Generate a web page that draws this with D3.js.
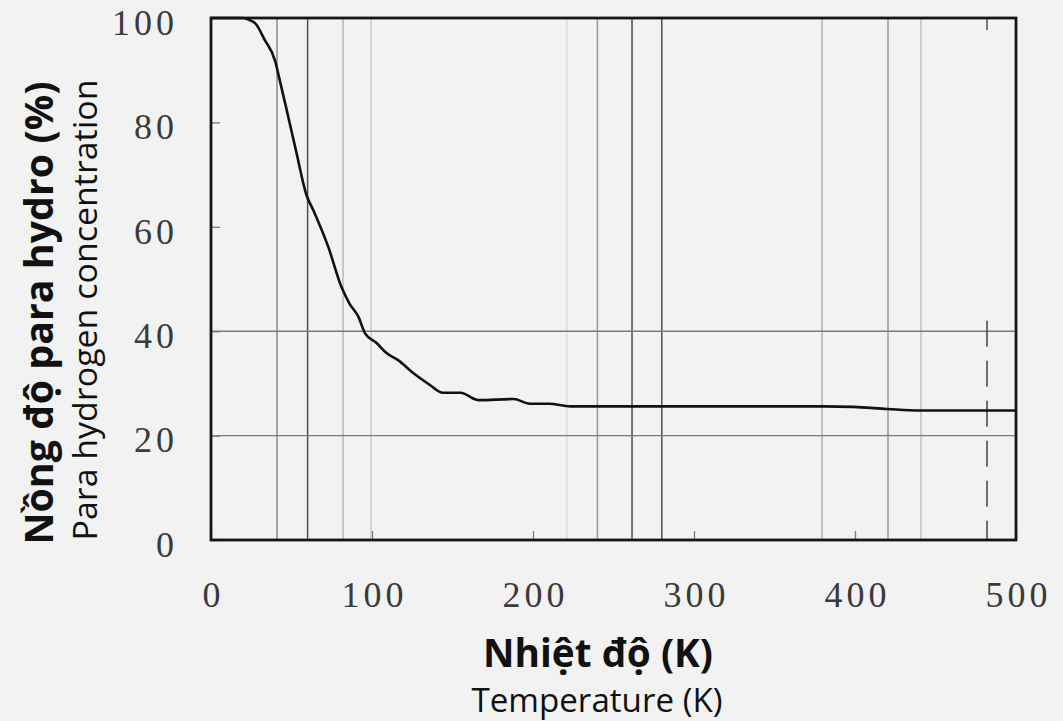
<!DOCTYPE html>
<html>
<head>
<meta charset="utf-8">
<script src="https://cdn.jsdelivr.net/npm/d3@7"></script>
<style>
  body { margin: 0; background: #f2f2f2; }
  .tickLabel { font-family: "Liberation Serif", "DejaVu Serif", serif; font-size: 36px; fill: #3a3a3a; letter-spacing: 4px; }
  .titleBold { font-family: "Open Sans", sans-serif; font-weight: 700; fill: #111; }
  .titleReg { font-family: "Open Sans", sans-serif; font-weight: 400; fill: #111; }
</style>
</head>
<body>
<div id="chart"></div>
<script>
// data
const temps = [0, 20, 24, 28, 33, 40, 42, 47, 53, 59.4, 63.5, 73, 81, 86, 91.5, 95.7, 103, 109, 116, 126, 136, 144, 150, 155, 166, 188, 198, 210, 223, 300, 380, 399, 420, 440, 500];
const paraH = [100, 100, 99.6, 98.8, 96, 91.6, 89, 82.4, 74.3, 66, 63.2, 56, 48.5, 45.3, 42.8, 39.6, 37.7, 35.8, 34.5, 31.9, 29.7, 28.2, 28.2, 28.2, 26.8, 27.0, 26.1, 26.1, 25.6, 25.6, 25.6, 25.5, 25.1, 24.8, 24.8];

const xTicks = [0, 100, 200, 300, 400, 500];
const yTicks = [0, 20, 40, 60, 80, 100];

// scanned grid lines (irregular in the original)
const gridT = [41, 60, 82, 99.4, 221, 240, 261.5, 280, 379.5, 420.5, 441];
const gridP = [20, 40];
const dashedT = 482;

// set up svg size
const svgWidth = 1063;
const svgHeight = 721;

const margin = {
    top: 18,
    right: 47,
    bottom: 181,
    left: 211
};

const width = svgWidth - margin.left - margin.right;
const height = svgHeight - margin.top - margin.bottom;

const svg = d3.select("#chart")
    .append("svg")
    .attr("width", svgWidth)
    .attr("height", svgHeight);

const chartGroup = svg.append("g")
    .attr("transform", `translate(${margin.left}, ${margin.top})`);

const xScale = d3.scaleLinear().domain([0, 500]).range([0, width]);
const yScale = d3.scaleLinear().domain([0, 100]).range([height, 0]);

// vertical grid lines, each with its own scan shade
const gridShade = ["#8a8a8a", "#4d4d4d", "#b8b8b8", "#cacaca", "#dcdcdc", "#9a9a9a", "#4d4d4d", "#4d4d4d", "#b0b0b0", "#9a9a9a", "#c0c0c0"];
chartGroup.selectAll(".vgrid")
    .data(gridT)
    .enter()
    .append("line")
    .attr("class", "vgrid")
    .attr("x1", d => xScale(d))
    .attr("x2", d => xScale(d))
    .attr("y1", 0)
    .attr("y2", height)
    .attr("stroke", (d, i) => gridShade[i])
    .attr("stroke-width", 1.5);

// horizontal grid lines
chartGroup.selectAll(".hgrid")
    .data(gridP)
    .enter()
    .append("line")
    .attr("class", "hgrid")
    .attr("x1", 0)
    .attr("x2", width)
    .attr("y1", d => yScale(d))
    .attr("y2", d => yScale(d))
    .attr("stroke", "#7a7a7a")
    .attr("stroke-width", 1.4);

// dashed line near the right edge
chartGroup.append("line")
    .attr("x1", xScale(dashedT))
    .attr("x2", xScale(dashedT))
    .attr("y1", yScale(42))
    .attr("y2", height)
    .attr("stroke", "#444")
    .attr("stroke-width", 1.5)
    .attr("stroke-dasharray", "26,14");
chartGroup.append("line")
    .attr("x1", xScale(dashedT))
    .attr("x2", xScale(dashedT))
    .attr("y1", 0)
    .attr("y2", yScale(97.7))
    .attr("stroke", "#555")
    .attr("stroke-width", 1.5);

// axes with short inward ticks
const bottomAxis = d3.axisBottom(xScale).tickValues(xTicks).tickSize(-9).tickPadding(0);
const leftAxis = d3.axisLeft(yScale).tickValues(yTicks).tickSize(-9).tickPadding(0);

const xAxis = chartGroup.append("g")
    .attr("transform", `translate(0, ${height})`)
    .call(bottomAxis);
const yAxis = chartGroup.append("g")
    .call(leftAxis);

[xAxis, yAxis].forEach(ax => {
    ax.select(".domain").remove();
    ax.selectAll(".tick line").attr("stroke", "#777").attr("stroke-width", 1.3);
    ax.selectAll(".tick text")
        .attr("class", "tickLabel")
        .attr("fill", null)
        .attr("font-size", null)
        .attr("font-family", null);
});

xAxis.selectAll(".tick text")
    .attr("y", 67)
    .attr("dy", 0)
    .attr("text-anchor", "middle")
    .attr("dx", 2);

yAxis.selectAll(".tick text")
    .attr("x", -33)
    .attr("dy", "0.45em")
    .attr("text-anchor", "end");

// the curve
const pts = temps.map((t, i) => [t, paraH[i]]);
const line = d3.line()
    .x(d => xScale(d[0]))
    .y(d => yScale(d[1]))
    .curve(d3.curveMonotoneX);

chartGroup.append("path")
    .datum(pts)
    .attr("d", line)
    .attr("fill", "none")
    .attr("stroke", "#111")
    .attr("stroke-width", 2.6);

// frame
chartGroup.append("rect")
    .attr("x", 0)
    .attr("y", 0)
    .attr("width", width)
    .attr("height", height)
    .attr("fill", "none")
    .attr("stroke", "#151515")
    .attr("stroke-width", 2.8);

// x axis titles
svg.append("text")
    .attr("class", "titleBold")
    .attr("x", 598)
    .attr("y", 667)
    .attr("text-anchor", "middle")
    .attr("font-size", 40)
    .attr("textLength", 230)
    .attr("lengthAdjust", "spacingAndGlyphs")
    .text("Nhiệt độ (K)");

svg.append("text")
    .attr("class", "titleReg")
    .attr("x", 597)
    .attr("y", 712)
    .attr("text-anchor", "middle")
    .attr("font-size", 33)
    .attr("textLength", 251)
    .attr("lengthAdjust", "spacingAndGlyphs")
    .text("Temperature (K)");

// y axis titles
svg.append("text")
    .attr("class", "titleBold")
    .attr("transform", "translate(53, 313) rotate(-90)")
    .attr("text-anchor", "middle")
    .attr("font-size", 40)
    .attr("textLength", 463)
    .attr("lengthAdjust", "spacingAndGlyphs")
    .text("Nồng độ para hydro (%)");

svg.append("text")
    .attr("class", "titleReg")
    .attr("transform", "translate(97, 310) rotate(-90)")
    .attr("text-anchor", "middle")
    .attr("font-size", 32)
    .attr("textLength", 461)
    .attr("lengthAdjust", "spacingAndGlyphs")
    .text("Para hydrogen concentration");
</script>
</body>
</html>
